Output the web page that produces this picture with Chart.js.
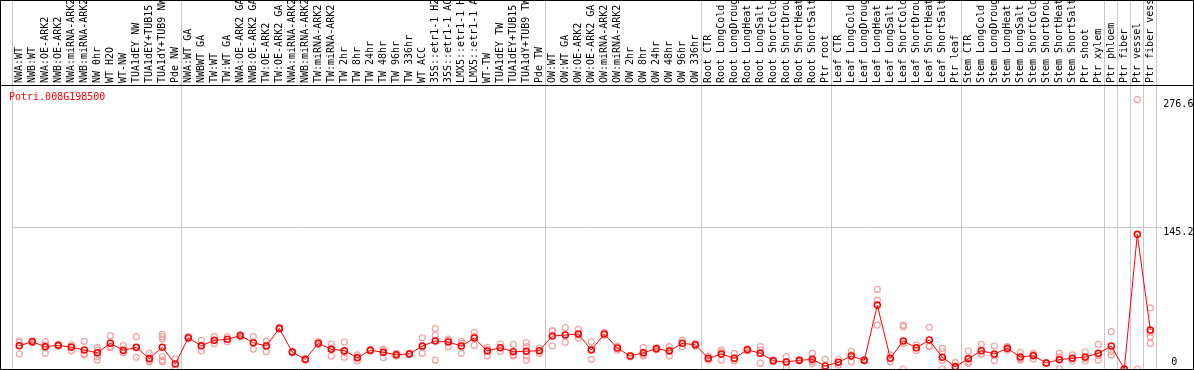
<!DOCTYPE html>
<html><head><meta charset="utf-8">
<script src="https://cdn.jsdelivr.net/npm/chart.js@4.4.0/dist/chart.umd.min.js"></script>
<style>html,body{margin:0;padding:0;background:#fff}#wrap{width:1194px;height:370px;position:relative}</style>
</head><body><div id="wrap"><canvas id="c"></canvas></div>
<script>
const geneId = 'Potri.008G198500';
const categories = [
  'NWA:WT','NWB:WT','NWA:OE-ARK2','NWB:OE-ARK2','NWA:miRNA-ARK2','NWB:miRNA-ARK2','NW 0hr','WT H2O','WT-NW','TUA1dEY NW','TUA1dEY+TUB15 NW','TUA1dY+TUB9 NW','Pde NW',
  'NWA:WT GA','NWBWT GA','TW:WT','TW:WT GA','NWA:OE-ARK2 GA','NWB:OE-ARK2 GA','TW:OE-ARK2','TW:OE-ARK2 GA','NWA:miRNA-ARK2 GA','NWB:miRNA-ARK2 GA','TW:miRNA-ARK2','TW:miRNA-ARK2 GA','TW 2hr','TW 8hr','TW 24hr','TW 48hr','TW 96hr','TW 336hr','WT ACC','35S::etr1-1 H2O','35S::etr1-1 ACC','LMX5::etr1-1 H2O','LMX5::etr1-1 ACC','WT-TW','TUA1dEY TW','TUA1dEY+TUB15 TW','TUA1dY+TUB9 TW','Pde TW',
  'OW:WT','OW:WT GA','OW:OE-ARK2','OW:OE-ARK2 GA','OW:miRNA-ARK2','OW:miRNA-ARK2 GA','OW 2hr','OW 8hr','OW 24hr','OW 48hr','OW 96hr','OW 336hr',
  'Root CTR','Root LongCold','Root LongDrought','Root LongHeat','Root LongSalt','Root ShortCold','Root ShortDrought','Root ShortHeat','Root ShortSalt','Ptr root',
  'Leaf CTR','Leaf LongCold','Leaf LongDrought','Leaf LongHeat','Leaf LongSalt','Leaf ShortCold','Leaf ShortDrought','Leaf ShortHeat','Leaf ShortSalt','Ptr leaf',
  'Stem CTR','Stem LongCold','Stem LongDrought','Stem LongHeat','Stem LongSalt','Stem ShortCold','Stem ShortDrought','Stem ShortHeat','Stem ShortSalt','Ptr shoot','Ptr xylem',
  'Ptr phloem','Ptr fiber','Ptr vessel','Ptr fiber vessel'
];
const means = [
  23.9,28.0,22.9,24.3,22.3,19.5,16.7,26.4,19.2,22.3,10.6,22.3,5.1,
  32.1,23.9,29.4,30.5,34.2,27.0,23.6,41.7,17.4,9.9,26.4,20.2,18.8,11.6,19.2,17.1,14.7,15.4,23.6,28.7,27.7,23.6,31.8,18.5,21.8,17.7,18.2,18.8,
  33.8,34.9,35.9,19.5,35.9,21.5,13.3,16.7,20.8,18.5,26.4,24.9,
  11.0,15.4,11.0,19.8,16.1,8.5,7.2,8.9,9.9,3.1,
  6.9,13.3,8.9,65.6,11.0,28.7,21.8,29.7,12.0,2.4,
  10.6,18.8,15.4,21.2,12.3,13.6,6.2,9.5,11.0,12.3,16.1,
  23.6,0,138.2,40.0
];
const replicates = [
  [29.0,15.4,27.3],[29.0,27.0],[28.0,16.1,24.6],[25.0,23.6],[24.9,18.8,23.2],[28.4,14.4,15.7],[21.9,19.5,12.6,9.2],[34.2,21.9,23.0],[23.9,17.0,16.7],[33.2,12.0,21.7],[16.1,7.5,8.2],[35.6,33.2,31.0,12.6,9.2,7.5],[10.3,0.0],
  [33.2,31.0],[29.4,18.5,23.9],[33.2,26.0],[33.2,28.0],[35.6,33.0],[33.2,20.5],[28.7,17.8,24.3],[42.5,41.0],[18.0,16.8],[10.5,9.3],[28.0,25.0],[25.6,13.3,21.6],[27.7,12.0,16.7],[14.4,8.2,12.2],[20.2,18.2],[20.2,11.6,19.5],[16.1,13.3],[16.0,14.8],[32.1,16.1,22.6],[41.4,34.9,9.2,29.3],[30.8,22.9,29.4],[28.4,16.1,26.3],[37.6,24.3,33.5],[22.2,13.3,20.0],[25.6,18.0],[25.3,13.3,14.5],[27.0,23.0,13.3,9.2],[21.5,16.1],
  [39.3,23.6,38.5],[42.4,27.4,34.9],[40.7,32.0,35.0],[28.0,9.9,20.6],[37.3,34.5],[19.5,23.5],[14.0,12.6],[21.9,13.3,14.9],[21.9,19.7],[22.9,13.3,19.3],[29.7,26.4,23.1],[26.0,23.8],
  [13.3,9.2,10.5],[19.5,9.2,17.5],[16.1,8.2,8.7],[20.8,18.8],[23.0,19.5,6.0],[9.2,7.8],[12.6,1.4,7.6],[9.5,8.3],[16.1,5.8,7.8],[9.9,0.0,0.0],
  [10.0,4.1,6.6],[14.5,7.5,18.0],[9.5,8.3],[81.7,70.8,45.1],[7.5,14.5],[45.1,43.4,0.0,26.3],[24.6,19.0],[42.8,22.9,23.4],[21.2,17.7,0.0,9.1],[6.8,0.0,0.4],
  [18.5,7.5,5.8],[25.3,15.4,15.7],[23.6,8.5,14.1],[23.0,19.4],[17.1,9.2,10.6],[14.4,10.3,16.1],[6.5,5.9],[16.1,0.0,12.4],[14.4,8.2,10.4],[17.7,8.2,11.0],[25.3,9.2,13.8],
  [38.3,14.4,18.1],[0.0,0.0],[276.6,0.0],[62.8,33.2,26.3,37.7]
];
const yTickValues = [0, 145.2, 276.6];
const yGridValue = 145.2;
const yMax = 290.5;
const groupStarts = [0,13,41,53,63,73,84,85,86,87,88];

const FONT = {family: "'DejaVu Sans Mono', monospace", size: 10};
const GRAY = '#c8c8c8';
const RED = '#ff0000';
const PINK = '#f2a0a0';
const CLEAR = 'rgba(0,0,0,0)';

const maxReps = Math.max(...replicates.map(r => r.length));
const repDatasets = [];
for (let k = 0; k < maxReps; k++) {
  repDatasets.push({
    label: 'rep' + (k + 1),
    data: replicates.map(r => r.length > k ? r[k] : null),
    showLine: false,
    pointRadius: 3,
    pointBorderWidth: 1.2,
    pointBorderColor: PINK,
    pointBackgroundColor: CLEAR,
    borderColor: PINK
  });
}

const noPad = (s) => { s.paddingTop = 0; s.paddingBottom = 0; s.paddingLeft = 0; s.paddingRight = 0; };

const layoutFix = {
  id: 'layoutFix',
  afterLayout(chart) {
    const ca = chart.chartArea;
    ca.top = 86; ca.bottom = 369; ca.height = ca.bottom - ca.top;
    const y = chart.scales.y, y0 = chart.scales.y0;
    for (const s of [y, y0]) { s.top = ca.top; s.bottom = ca.bottom; s.height = ca.height; }
    y0.left = y.left; y0.right = y.right; y0.width = y.width;
    y.configure(); y0.configure();
  }
};

const framePlugin = {
  id: 'frame',
  afterDraw(chart) {
    const c = chart.ctx;
    c.save();
    c.strokeStyle = '#000';
    c.lineWidth = 1;
    c.beginPath();
    c.moveTo(0.5, 0); c.lineTo(0.5, 370);
    c.moveTo(1193.5, 0); c.lineTo(1193.5, 370);
    c.moveTo(0, 0.5); c.lineTo(1194, 0.5);
    c.moveTo(0, 85.5); c.lineTo(1194, 85.5);
    c.moveTo(0, 369.5); c.lineTo(1194, 369.5);
    c.stroke();
    c.fillStyle = RED;
    c.font = "10px 'DejaVu Sans Mono', monospace";
    c.textBaseline = 'middle';
    c.textAlign = 'left';
    c.fillText(geneId, 9, 97);
    c.restore();
  }
};

new Chart(document.getElementById('c'), {
  type: 'line',
  data: {
    labels: categories,
    datasets: [{
      label: 'mean',
      data: means,
      borderColor: RED,
      borderWidth: 1,
      pointRadius: 3,
      pointBorderWidth: 1.6,
      pointBorderColor: RED,
      pointBackgroundColor: CLEAR,
      tension: 0
    }, ...repDatasets]
  },
  options: {
    responsive: true,
    maintainAspectRatio: false,
    devicePixelRatio: 1,
    animation: false,
    layout: {padding: {left: 12.8, right: 0, top: 0, bottom: 1}},
    plugins: {legend: {display: false}, tooltip: {enabled: false}, title: {display: false}},
    scales: {
      x: {
        type: 'category',
        position: 'top',
        offset: true,
        grid: {
          offset: true,
          drawTicks: true,
          tickLength: 86,
          lineWidth: 1,
          color: (c) => groupStarts.includes(c.type === 'tick' ? c.index : categories.length) ? GRAY : CLEAR
        },
        border: {display: false},
        ticks: {autoSkip: false, maxRotation: 90, minRotation: 90, padding: -83, labelOffset: 12, color: '#000', font: FONT},
        afterFit: (s) => { s.height = 86; noPad(s); }
      },
      y0: {
        type: 'linear',
        position: 'right',
        weight: 0,
        min: 0, max: yMax,
        grid: {display: false},
        border: {display: false},
        afterBuildTicks: (s) => { s.ticks = yTickValues.filter(v => v === 0).map(v => ({value: v})); },
        ticks: {padding: 6.5, labelOffset: -7, color: '#000', font: FONT, callback: (v) => String(v)},
        afterFit: (s) => { s.width = 0; noPad(s); }
      },
      y: {
        type: 'linear',
        position: 'right',
        weight: 1,
        min: 0, max: yMax,
        grid: {
          drawTicks: true,
          tickLength: 5,
          lineWidth: 1,
          color: (c) => (c.tick && c.tick.value === yGridValue) ? GRAY : CLEAR
        },
        border: {display: false},
        afterBuildTicks: (s) => { s.ticks = yTickValues.filter(v => v !== 0).map(v => ({value: v})); },
        ticks: {padding: 1.5, labelOffset: 5, color: '#000', font: FONT, callback: (v) => String(v)},
        afterFit: (s) => { s.width = 37.2; noPad(s); }
      }
    }
  },
  plugins: [layoutFix, framePlugin]
});
</script>
</body></html>
